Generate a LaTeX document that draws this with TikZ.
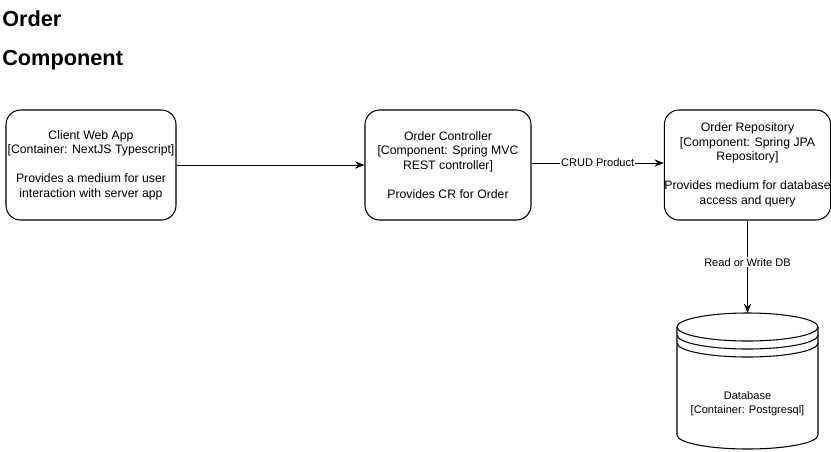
\documentclass[tikz,border=0pt]{standalone}
\usepackage{fontspec}
\setmainfont{Liberation Sans}
\usetikzlibrary{arrows.meta}
\begin{document}
\begin{tikzpicture}[x=0.75pt,y=-0.75pt,
  box/.style={draw,line width=0.8pt,rounded corners=11pt,minimum width=170*0.75pt,minimum height=110*0.75pt,align=center,font=\fontsize{9.2}{10.9}\selectfont,inner sep=0pt},
  conn/.style={line width=0.75pt,-{Stealth[length=7pt,width=5.5pt]}},
  lbl/.style={fill=white,font=\fontsize{8.3}{9.5}\selectfont,inner sep=0.5pt},
  title/.style={anchor=west,font=\bfseries\fontsize{16.3}{18}\selectfont,inner sep=0pt}]
\useasboundingbox (0,0) rectangle (831,451);
\node[title] (t1) at (2,19) {Order};
\node[title] (t2) at (2,60) {Component};
\node[box] (client) at (91,165) {Client Web App\\ {[Container: NextJS Typescript]}\\[10.9pt] Provides a medium for user\\ interaction with server app};
\node[box,minimum width=166*0.75pt] (ctrl) at (448,165) {Order Controller\\ {[Component: Spring MVC}\\ REST controller]\\[10.9pt] Provides CR for Order};
\node[box,minimum width=165*0.75pt] (repo) at (747.5,165) {Order Repository\\ {[Component: Spring JPA}\\ Repository]\\[10.9pt] Provides medium for database\\ access and query};
% cylinder
\begin{scope}[line width=0.8pt]
\draw[fill=white] (677,327) -- (677,435) arc[start angle=180,end angle=360,x radius=70.5,y radius=-14] -- (818,327);
\draw (747.5,327) ellipse[x radius=70.5,y radius=14];
\draw (677,335) arc[start angle=180,end angle=360,x radius=70.5,y radius=-14];
\draw (677,343) arc[start angle=180,end angle=360,x radius=70.5,y radius=-14];
\end{scope}
\coordinate (dbtop) at (747.5,313);
\node[align=center,font=\fontsize{8.3}{10.5}\selectfont,inner sep=0pt] (db) at (747.5,404) {Database\\ {[Container: Postgresql]}};
\draw[conn] (client.east) -- (ctrl.west);
\draw[conn] ([yshift=1.5pt]ctrl.east) -- node[lbl] (crud) {CRUD Product} ([yshift=1.5pt]repo.west);
\draw[conn] (repo.south) -- node[lbl,pos=0.45] (rw) {Read or Write DB} (dbtop);
\end{tikzpicture}
\end{document}
